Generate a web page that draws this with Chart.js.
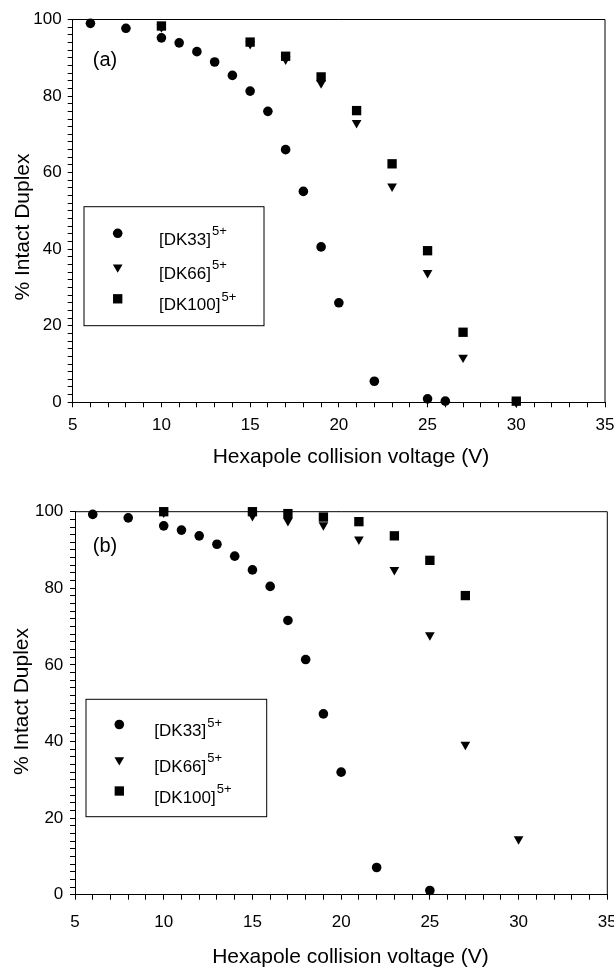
<!DOCTYPE html>
<html>
<head>
<meta charset="utf-8">
<script src="https://cdn.jsdelivr.net/npm/chart.js@4.4.1/dist/chart.umd.min.js"></script>
<style>
  html, body { margin: 0; padding: 0; background: #fff; }
  canvas { position: absolute; left: 0; }
  #chartA { top: 0; }
  #chartB { top: 480px; }
</style>
</head>
<body>
<canvas id="chartA" width="614" height="480"></canvas>
<canvas id="chartB" width="614" height="487"></canvas>
<script>
const FONT = "'Liberation Sans', Arial, Helvetica, sans-serif";

// series names and the charge state shown as superscript
const seriesNames = ['[DK33]', '[DK66]', '[DK100]'];
const chargeState = '5+';

// panel (a)
const voltsA33 = [6, 8, 10, 11, 12, 13, 14, 15, 16, 17, 18, 19, 20, 22, 25, 26];
const intactA33 = [99.0, 97.7, 95.2, 93.9, 91.6, 88.9, 85.4, 81.3, 76.0, 66.0, 55.1, 40.6, 26.0, 5.5, 0.9, 0.3];
const voltsA66 = [10, 15, 17, 19, 21, 23, 25, 27, 30];
const intactA66 = [98.0, 93.6, 89.6, 83.4, 73.0, 56.4, 33.8, 11.7, 0];
const voltsA100 = [10, 15, 17, 19, 21, 23, 25, 27, 30];
const intactA100 = [98.3, 94.1, 90.4, 85.0, 76.2, 62.3, 39.6, 18.3, 0.3];

// panel (b)
const voltsB33 = [6, 8, 10, 11, 12, 13, 14, 15, 16, 17, 18, 19, 20, 22, 25];
const intactB33 = [99.3, 98.4, 96.3, 95.2, 93.7, 91.5, 88.4, 84.8, 80.5, 71.6, 61.4, 47.2, 32.0, 7.1, 1.1];
const voltsB66 = [10, 15, 17, 19, 21, 23, 25, 27, 30];
const intactB66 = [99.8, 98.9, 97.6, 96.5, 92.8, 84.8, 67.8, 39.2, 14.5];
const voltsB100 = [10, 15, 17, 19, 21, 23, 25, 27];
const intactB100 = [100, 100, 99.5, 98.6, 97.4, 93.7, 87.3, 78.1];

const xTitle = 'Hexapole collision voltage (V)';
const yTitle = '% Intact Duplex';

const markers = [
  { pointStyle: 'circle', pointRadius: 4.8, pointRotation: 0, order: 2 },
  { pointStyle: 'triangle', pointRadius: 5.6, pointRotation: 180, order: 1 },
  { pointStyle: 'rect', pointRadius: 6.6, pointRotation: 0, order: 0 },
];

const toPoints = (xs, ys) => xs.map((x, i) => ({ x, y: ys[i] }));

// frame, panel letter, axis titles and boxed legend
const panelDecor = {
  id: 'panelDecor',
  afterDraw(chart, args, opts) {
    const { ctx, chartArea: a } = chart;
    ctx.save();
    ctx.strokeStyle = '#000';
    ctx.lineWidth = 1;
    ctx.beginPath();
    ctx.moveTo(a.left, a.top);
    ctx.lineTo(a.right, a.top);
    ctx.lineTo(a.right, a.bottom);
    ctx.stroke();

    ctx.fillStyle = '#000';
    ctx.textAlign = 'center';
    ctx.textBaseline = 'middle';
    ctx.font = `20px ${FONT}`;
    ctx.fillText(opts.letter, opts.letterX, opts.letterY);

    ctx.font = `21px ${FONT}`;
    ctx.fillText(xTitle, opts.xTitleX, opts.xTitleY);
    ctx.save();
    ctx.translate(opts.yTitleX, opts.yTitleY);
    ctx.rotate(-Math.PI / 2);
    ctx.fillText(yTitle, 0, 0);
    ctx.restore();

    const lg = opts.legend;
    ctx.strokeRect(lg.left, lg.top, lg.right - lg.left, lg.bottom - lg.top);
    chart.data.datasets.forEach((ds, i) => {
      const rowY = lg.rows[i];
      Chart.helpers.drawPoint(ctx, {
        pointStyle: ds.pointStyle,
        radius: ds.pointRadius,
        rotation: ds.pointRotation,
        borderWidth: 0,
      }, lg.markerX, rowY);
      ctx.textAlign = 'left';
      ctx.textBaseline = 'alphabetic';
      ctx.font = `17px ${FONT}`;
      ctx.fillText(seriesNames[i], lg.textX, rowY + 11.5);
      const w = ctx.measureText(seriesNames[i]).width;
      ctx.font = `13px ${FONT}`;
      ctx.fillText(chargeState, lg.textX + w + 1, rowY + 2);
    });
    ctx.restore();
  },
};

function axis(min, max, step, every, cfg, horizontal) {
  return {
    type: 'linear',
    min,
    max,
    ticks: {
      stepSize: step,
      autoSkip: false,
      maxRotation: 0,
      padding: horizontal ? cfg.xTickPad : cfg.yTickPad,
      color: '#000',
      font: { family: FONT, size: 17 },
      callback: (v) => (v % every === 0 ? v : ''),
    },
    grid: { drawOnChartArea: false, drawTicks: true, tickLength: 5, color: '#000', lineWidth: 1 },
    border: { color: '#000', width: 1 },
    title: { display: false },
    afterFit: (s) => {
      if (horizontal) {
        s.height = cfg.xAxisHeight;
        s.paddingLeft = 0;
        s.paddingRight = 0;
      } else {
        s.width = cfg.yAxisWidth;
        s.paddingTop = 0;
        s.paddingBottom = 0;
      }
    },
  };
}

function makePanel(canvasId, series, cfg) {
  return new Chart(document.getElementById(canvasId), {
    type: 'scatter',
    data: {
      datasets: series.map((pts, i) => ({
        label: seriesNames[i],
        data: pts,
        backgroundColor: '#000',
        borderColor: '#000',
        borderWidth: 0,
        clip: false,
        ...markers[i],
      })),
    },
    options: {
      responsive: false,
      animation: false,
      events: [],
      layout: { padding: cfg.padding },
      scales: {
        x: axis(5, 35, 1, 5, cfg, true),
        y: axis(0, 100, 2, 20, cfg, false),
      },
      plugins: {
        legend: { display: false },
        tooltip: { enabled: false },
        panelDecor: cfg.decor,
      },
    },
    plugins: [panelDecor],
  });
}

makePanel('chartA', [
  toPoints(voltsA33, intactA33),
  toPoints(voltsA66, intactA66),
  toPoints(voltsA100, intactA100),
], {
  padding: { top: 19.5, right: 9, left: 0, bottom: 0 },
  yAxisWidth: 72.7,
  xAxisHeight: 77.7,
  xTickPad: 8,
  yTickPad: 6,
  decor: {
    letter: '(a)', letterX: 105, letterY: 60,
    xTitleX: 351, xTitleY: 457,
    yTitleX: 23, yTitleY: 227,
    legend: { left: 84, top: 206.7, right: 264, bottom: 325.7, markerX: 117.7, textX: 159, rows: [233.3, 267.2, 298.8] },
  },
});

makePanel('chartB', [
  toPoints(voltsB33, intactB33),
  toPoints(voltsB66, intactB66),
  toPoints(voltsB100, intactB100),
], {
  padding: { top: 31.7, right: 6.7, left: 0, bottom: 0 },
  yAxisWidth: 75,
  xAxisHeight: 72.3,
  xTickPad: 12,
  yTickPad: 6.7,
  decor: {
    letter: '(b)', letterX: 105, letterY: 66.7,
    xTitleX: 350.5, xTitleY: 477,
    yTitleX: 22, yTitleY: 221.5,
    legend: { left: 86, top: 219.3, right: 266.7, bottom: 336.7, markerX: 119.3, textX: 154.3, rows: [244.5, 280, 311] },
  },
});
</script>
</body>
</html>
